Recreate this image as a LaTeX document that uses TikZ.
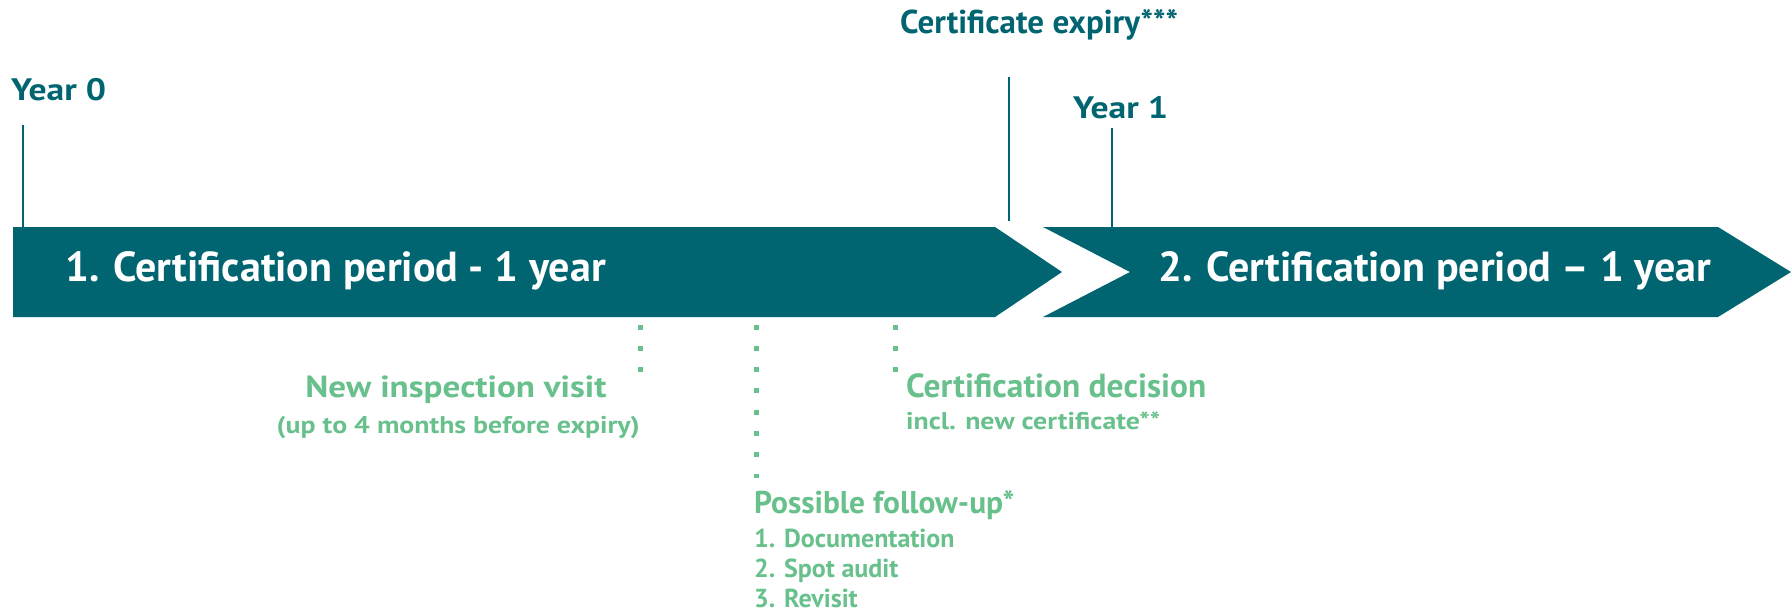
\documentclass[tikz,border=0pt]{standalone}
\usepackage{fontspec}
\setmainfont{PT Sans}
\newfontfamily\widesans[FakeStretch=1.15]{PT Sans}
\definecolor{certteal}{RGB}{0,101,112}
\definecolor{certgreen}{RGB}{104,193,140}

\begin{document}
\begin{tikzpicture}[x=1pt, y=-1pt,
		bartext/.style={text=white, inner sep=0, font=\bfseries\fontsize{42}{50}\selectfont},
		yeartext/.style={text=certteal, inner sep=0, font=\widesans\bfseries\fontsize{31}{37}\selectfont},
		expirytext/.style={text=certteal, inner sep=0, font=\bfseries\fontsize{33}{40}\selectfont},
		eventhead/.style={text=certgreen, inner sep=0, font=\bfseries\fontsize{33.4}{40}\selectfont},
		eventnote/.style={text=certgreen, inner sep=0, font=\bfseries\fontsize{26}{31}\selectfont},
		widehead/.style={text=certgreen, inner sep=0, font=\widesans\bfseries\fontsize{30.5}{37}\selectfont},
		widenote/.style={text=certgreen, inner sep=0, font=\widesans\bfseries\fontsize{24.2}{30}\selectfont},
		tickline/.style={draw=certteal, line width=1.5pt},
		dotline/.style={draw=certgreen, line width=5pt, dash pattern=on 5pt off 16.3pt}]
				\useasboundingbox (0,0) rectangle (1791,611);
				
				% the two periods
				\fill[certteal] (13,227) -- (995,227) -- (1062,272) -- (995,317) -- (13,317) -- cycle;
				\fill[certteal] (1043,227) -- (1718,227) -- (1791,272) -- (1718,317) -- (1043,317) -- (1130,272) -- cycle;
				\node[bartext, anchor=base west] (period1) at (65,281) {1. Certification period - 1 year};
				\node[bartext, anchor=base west] (period2) at (1158,281) {2. Certification period -- 1 year};
				
				% labels above
				\node[yeartext, anchor=base west] (year0) at (11,100) {Year 0};
				\node[yeartext, anchor=base west] (year1) at (1073,118) {Year 1};
				\node[expirytext, anchor=base west] (expiry) at (900,33) {Certificate expiry***};
				
				\coordinate (year0top) at (23,125);
				\coordinate (year0bar) at (23,227);
				\coordinate (year1top) at (1112,128);
				\coordinate (year1bar) at (1112,227);
				\coordinate (expirytop) at (1009,77);
				\coordinate (expirybot) at (1009,221);
				\path[tickline] (year0top) edge (year0bar);
				\path[tickline] (year1top) edge (year1bar);
				\path[tickline] (expirytop) edge (expirybot);
				
				% events below
				\coordinate (visittop) at (640,324.5);
				\coordinate (visitbot) at (640,372);
				\coordinate (followtop) at (756,324.5);
				\coordinate (followbot) at (756,478);
				\coordinate (decisiontop) at (895,324.5);
				\coordinate (decisionbot) at (895,372);
				\path[dotline] (visittop) edge (visitbot);
				\path[dotline] (followtop) edge (followbot);
				\path[dotline] (decisiontop) edge (decisionbot);
				
				\node[widehead, anchor=base] (visit) at (456,397) {New inspection visit};
				\node[widenote, anchor=base east] (visitnote) at (640,433) {(up to 4 months before expiry)};
				\node[eventhead, anchor=base west] (decision) at (906,397) {Certification decision};
				\node[widenote, anchor=base west] (decisionnote) at (906,429) {incl. new certificate**};
				\node[eventhead, font=\bfseries\fontsize{31.5}{38}\selectfont, anchor=base west] (follow) at (754,513) {Possible follow-up*};
				\node[eventnote, anchor=base west] (follow1) at (754,547) {1. Documentation};
				\node[eventnote, anchor=base west] (follow2) at (754,577) {2. Spot audit};
				\node[eventnote, anchor=base west] (follow3) at (754,607) {3. Revisit};
\end{tikzpicture}
\end{document}
